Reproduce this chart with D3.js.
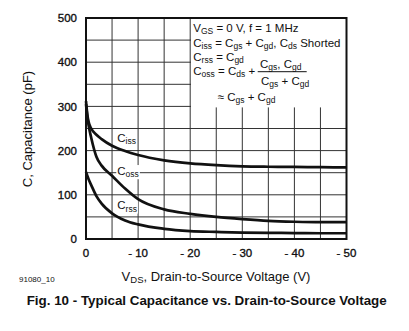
<!DOCTYPE html>
<html>
<head>
<meta charset="utf-8">
<script src="https://cdn.jsdelivr.net/npm/d3@7"></script>
<style>
  html, body { margin: 0; padding: 0; background: #fff; }
  svg { display: block; font-family: "Liberation Sans", Arial, Helvetica, sans-serif; }
</style>
</head>
<body>
<svg id="chart" width="409" height="331"></svg>
<script>
// ---- data ----
const voltages = [0, -0.25, -0.5, -1, -2, -3, -5, -7.5, -10, -15, -20, -25, -30, -35, -40, -45, -50];
const ciss = [312, 282, 265, 250, 236, 226, 211, 199, 190, 178, 171, 167, 164.5, 163.5, 163, 162.5, 162];
const coss = [305, 277, 257, 229, 186, 166, 143, 114, 90, 67, 57, 50, 45, 41, 39, 38, 38];
const crss = [152, 143, 135, 122, 97, 80, 58, 42, 33, 23, 18, 16, 14.5, 14, 13.5, 13, 13];
const seriesNames = ["iss", "oss", "rss"];
const xTicks = [0, -10, -20, -30, -40, -50];
const xTickLabels = ["0", "- 10", "- 20", "- 30", "- 40", "- 50"];
const yTicks = [0, 100, 200, 300, 400, 500];
const xGrid = [-5, -10, -15, -20, -25, -30, -35, -40, -45];
const yGrid = [50, 100, 150, 200, 250, 300, 350, 400, 450];
const labelAnchors = [[-6, 220], [-6, 144.7], [-6, 67]]; // data position of curve labels

(function () {
const svg = d3.select("#chart");
const pL = 86, pR = 346.5, pT = 18, pB = 239;
const x = d3.scaleLinear().domain([0, -50]).range([pL, pR]);
const y = d3.scaleLinear().domain([0, 500]).range([pB, pT]);

const grid = svg.append("g").attr("stroke", "#333").attr("stroke-width", 1);
grid.selectAll(".vg").data(xGrid).join("line")
  .attr("x1", d => x(d)).attr("x2", d => x(d)).attr("y1", pT).attr("y2", pB);
grid.selectAll(".hg").data(yGrid).join("line")
  .attr("x1", pL).attr("x2", pR).attr("y1", d => y(d)).attr("y2", d => y(d));

// formula box (white)
svg.append("rect").attr("x", x(-20) + 0.8).attr("y", y(500))
  .attr("width", x(-50) - x(-20) - 0.8).attr("height", y(300) - y(500) + 1)
  .attr("fill", "#fff");

// rich text helper: parts = [[text, isSub], ...]
function rich(g, px, py, parts, size, subSize, anchor) {
  const t = g.append("text").attr("x", px).attr("y", py).attr("font-size", size)
    .attr("fill", "#111").attr("text-anchor", anchor || "start")
    .style("white-space", "pre");
  let shifted = false;
  parts.forEach(([txt, sub]) => {
    const ts = t.append("tspan").text(txt);
    if (sub) {
      ts.attr("font-size", subSize);
      if (!shifted) { ts.attr("dy", 2.2); shifted = true; }
    } else if (shifted) { ts.attr("dy", -2.2); shifted = false; }
  });
  return t;
}

// curve labels with white background (background under curves, over grid)
const bgLayer = svg.append("g");
const curveLayer = svg.append("g");
const labelLayer = svg.append("g");
labelAnchors.forEach((a, i) => {
  const t = rich(labelLayer, x(a[0]), y(a[1]), [["C", false], [seriesNames[i], true]], 11.5, 8.5);
  const bb = t.node().getBBox();
  bgLayer.append("rect").attr("fill", "#fff")
    .attr("x", bb.x - 1).attr("y", bb.y).attr("width", bb.width + 2).attr("height", bb.height);
});

// curves
const line = d3.line().x((d, i) => x(voltages[i])).y(d => y(d)).curve(d3.curveMonotoneX);
[ciss, coss, crss].forEach(s => {
  curveLayer.append("path").attr("d", line(s)).attr("fill", "none")
    .attr("stroke", "#111").attr("stroke-width", 2.7);
});

// frame
svg.append("rect").attr("x", pL).attr("y", pT).attr("width", pR - pL).attr("height", pB - pT)
  .attr("fill", "none").attr("stroke", "#111").attr("stroke-width", 2);

// formula box text
const fx = 193.3;
rich(svg, fx, 32, [["V", false], ["GS", true], [" = 0 V, f = 1 MHz", false]], 11.5, 8.5);
rich(svg, fx, 46.5, [["C", false], ["iss", true], [" = C", false], ["gs", true], [" + C", false], ["gd", true], [", C", false], ["ds", true], [" Shorted", false]], 11.5, 8.5);
rich(svg, fx, 60.5, [["C", false], ["rss", true], [" = C", false], ["gd", true]], 11.5, 8.5);
rich(svg, fx, 75, [["C", false], ["oss", true], [" = C", false], ["ds", true], [" +", false]], 11.5, 8.5);
rich(svg, 260, 68, [["C", false], ["gs", true], [", C", false], ["gd", true]], 11.5, 8.5);
svg.append("line").attr("x1", 257.7).attr("x2", 306.7).attr("y1", 71.7).attr("y2", 71.7)
  .attr("stroke", "#111").attr("stroke-width", 1);
rich(svg, 261, 85, [["C", false], ["gs", true], [" + C", false], ["gd", true]], 11.5, 8.5);
rich(svg, 217.7, 101, [["\u2248 C", false], ["gs", true], [" + C", false], ["gd", true]], 11.5, 8.5);

// tick labels
svg.append("g").selectAll("text").data(yTicks).join("text")
  .attr("x", 77).attr("y", d => y(d)).attr("dy", "0.36em")
  .attr("text-anchor", "end").attr("font-size", 11.5).attr("fill", "#111")
  .attr("stroke", "#111").attr("stroke-width", 0.35)
  .text(d => d);
svg.append("g").selectAll("text").data(xTicks).join("text")
  .attr("x", d => x(d)).attr("y", 256.7)
  .attr("text-anchor", "middle").attr("font-size", 11.5).attr("fill", "#111")
  .attr("stroke", "#111").attr("stroke-width", 0.35)
  .style("white-space", "pre")
  .text((d, i) => xTickLabels[i]);

// axis titles
rich(svg, 216, 280.7, [["V", false], ["DS", true], [", Drain-to-Source Voltage (V)", false]], 13, 9.5, "middle");
svg.append("text").attr("transform", "translate(32.3,129) rotate(-90)")
  .attr("text-anchor", "middle").attr("font-size", 13).attr("fill", "#111")
  .text("C, Capacitance (pF)");

svg.append("text").attr("x", 19).attr("y", 281.7).attr("font-size", 8).attr("fill", "#111")
  .text("91080_10");

svg.append("text").attr("x", 26.7).attr("y", 305).attr("font-size", 13.5)
  .attr("font-weight", "bold").attr("fill", "#111")
  .attr("textLength", 360).attr("lengthAdjust", "spacingAndGlyphs")
  .text("Fig. 10 - Typical Capacitance vs. Drain-to-Source Voltage");
})();
</script>
</body>
</html>
